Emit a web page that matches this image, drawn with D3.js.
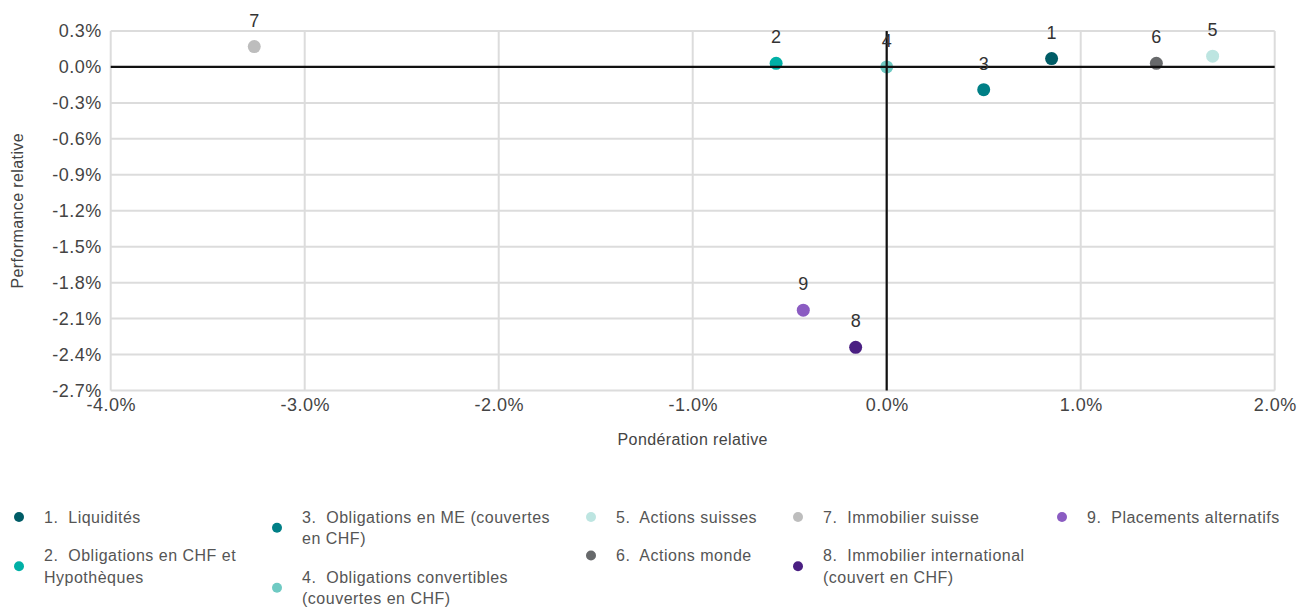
<!DOCTYPE html>
<html>
<head>
<meta charset="utf-8">
<script src="https://cdn.jsdelivr.net/npm/d3@7"></script>
<style>
  html, body { margin: 0; padding: 0; background: #fff; }
  svg { display: block; font-family: "Liberation Sans", Arial, sans-serif; }
</style>
</head>
<body>
<svg id="chart" width="1298" height="607"></svg>
<script>
// ---- data ----
const ids = [1, 2, 3, 4, 5, 6, 7, 8, 9];
const ponderation = [0.85, -0.57, 0.50, 0.00, 1.68, 1.39, -3.26, -0.16, -0.43];   // x, %
const performance = [0.07, 0.03, -0.19, 0.00, 0.09, 0.03, 0.17, -2.34, -2.03];    // y, %
const colors = ["#005c66", "#00b0a6", "#007f86", "#6fcac3", "#bde5e1", "#67696b", "#bdbdbd", "#4a1f82", "#8b5cc2"];
const legendLines = [
  ["1.\u00a0 Liquidités"],
  ["2.\u00a0 Obligations en CHF et", "Hypothèques"],
  ["3.\u00a0 Obligations en ME (couvertes", "en CHF)"],
  ["4.\u00a0 Obligations convertibles", "(couvertes en CHF)"],
  ["5.\u00a0 Actions suisses"],
  ["6.\u00a0 Actions monde"],
  ["7.\u00a0 Immobilier suisse"],
  ["8.\u00a0 Immobilier international", "(couvert en CHF)"],
  ["9.\u00a0 Placements alternatifs"]
];
const legendColumns = [[0, 1], [2, 3], [4, 5], [6, 7], [8]];
const xTicks = [-4.0, -3.0, -2.0, -1.0, 0.0, 1.0, 2.0];
const yTicks = [0.3, 0.0, -0.3, -0.6, -0.9, -1.2, -1.5, -1.8, -2.1, -2.4, -2.7];
const xTitle = "Pondération relative";
const yTitle = "Performance relative";

// ---- layout ----
const plot = { left: 110.7, right: 1274.7, top: 31, bottom: 390.5 };
const svg = d3.select("#chart");

const x = d3.scaleLinear().domain([-4, 2]).range([plot.left, plot.right]);
const y = d3.scaleLinear().domain([-2.7, 0.3]).range([plot.bottom, plot.top]);
const fmt = v => (Math.abs(v) < 1e-9 ? 0 : v).toFixed(1) + "%";

// grid
const grid = svg.append("g");
grid.selectAll("line.v").data(xTicks).join("line")
  .attr("x1", d => x(d)).attr("x2", d => x(d))
  .attr("y1", plot.top).attr("y2", plot.bottom)
  .attr("stroke", "#dcdcdc").attr("stroke-width", 2);
grid.selectAll("line.h").data(yTicks).join("line")
  .attr("class", "h")
  .attr("x1", plot.left).attr("x2", plot.right)
  .attr("y1", d => y(d)).attr("y2", d => y(d))
  .attr("stroke", "#dcdcdc").attr("stroke-width", 2);

// axes (labels only)
const xAxis = svg.append("g")
  .attr("transform", `translate(0,${plot.bottom})`)
  .call(d3.axisBottom(x).tickValues(xTicks).tickFormat(fmt).tickSize(0).tickPadding(8));
const yAxis = svg.append("g")
  .attr("transform", `translate(${plot.left},0)`)
  .call(d3.axisLeft(y).tickValues(yTicks).tickFormat(fmt).tickSize(0).tickPadding(9));
[xAxis, yAxis].forEach(a => {
  a.select(".domain").remove();
  a.selectAll("text").attr("font-size", 18).attr("fill", "#444")
    .attr("letter-spacing", "0.5px")
    .attr("font-family", "'Liberation Sans', Arial, sans-serif");
});

// axis titles
svg.append("text").attr("x", (plot.left + plot.right) / 2).attr("y", 445)
  .attr("text-anchor", "middle").attr("font-size", 16).attr("letter-spacing", "0.4px")
  .attr("fill", "#444").text(xTitle);
svg.append("text").attr("transform", `translate(23,${(plot.top + plot.bottom) / 2}) rotate(-90)`)
  .attr("text-anchor", "middle").attr("font-size", 16).attr("letter-spacing", "0.4px")
  .attr("fill", "#444").text(yTitle);

// points
const pts = ids.map((id, i) => ({ id, x: ponderation[i], y: performance[i], c: colors[i] }));
svg.append("g").selectAll("circle").data(pts).join("circle")
  .attr("cx", d => x(d.x)).attr("cy", d => y(d.y)).attr("r", 6.5).attr("fill", d => d.c);

// zero lines (on top of points)
svg.append("line").attr("x1", plot.left).attr("x2", plot.right)
  .attr("y1", y(0)).attr("y2", y(0)).attr("stroke", "#111").attr("stroke-width", 2.2);
svg.append("line").attr("x1", x(0)).attr("x2", x(0))
  .attr("y1", plot.top).attr("y2", plot.bottom).attr("stroke", "#111").attr("stroke-width", 2.2);

// point labels
svg.append("g").selectAll("text").data(pts).join("text")
  .attr("x", d => x(d.x)).attr("y", d => y(d.y) - 20)
  .attr("text-anchor", "middle").attr("font-size", 18).attr("fill", "#333").text(d => d.id);

// legend
const colX = [19, 277, 591, 798, 1062];
const lineH = 21.5, itemGap = 17, legendTop = 517;
const legend = svg.append("g");
legendColumns.forEach((col, ci) => {
  let cy = legendTop;
  col.forEach(idx => {
    const lines = legendLines[idx];
    const g = legend.append("g");
    const midY = cy + (lines.length - 1) * lineH / 2;
    g.append("circle").attr("cx", colX[ci]).attr("cy", midY).attr("r", 5).attr("fill", colors[idx]);
    const t = g.append("text").attr("font-size", 16).attr("fill", "#555")
      .attr("letter-spacing", "0.5px").style("white-space", "pre");
    lines.forEach((ln, li) => {
      t.append("tspan").attr("x", colX[ci] + 25).attr("y", cy + li * lineH).attr("dy", "0.35em").text(ln);
    });
    cy += (lines.length - 1) * lineH + lineH + itemGap;
  });
});
</script>
</body>
</html>
